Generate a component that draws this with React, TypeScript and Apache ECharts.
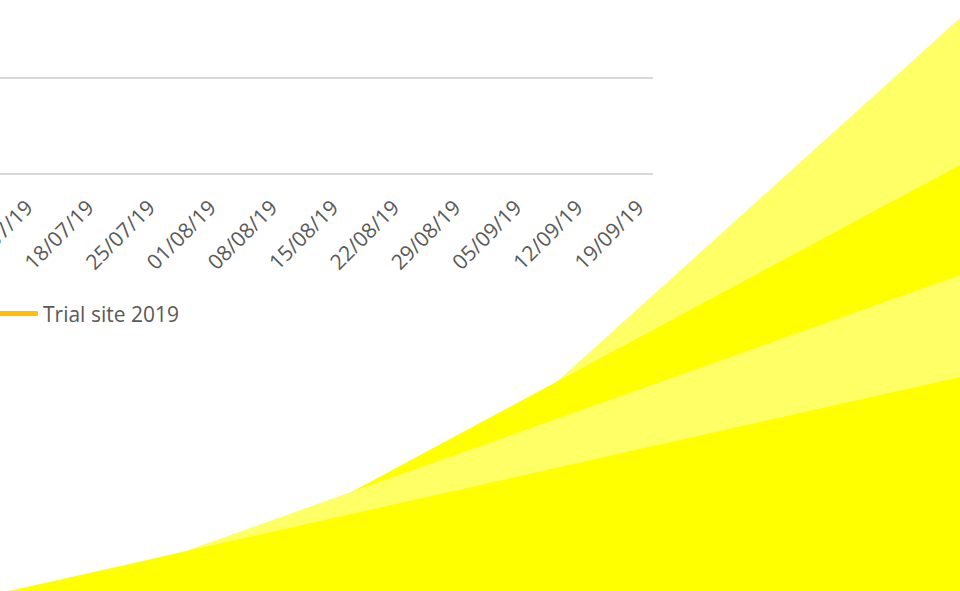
import React, { useEffect, useRef } from "react";
import * as echarts from "echarts";

// Category axis (weekly dates; the first two sit left of the visible crop)
const dates: string[] = [
  "27/06/19", "04/07/19", "11/07/19", "18/07/19", "25/07/19", "01/08/19", "08/08/19",
  "15/08/19", "22/08/19", "29/08/19", "05/09/19", "12/09/19", "19/09/19",
];
// Trial site 2019 — no values visible in the shown date range
const trialSite2019: (number | null)[] = [
  null, null, null, null, null, null, null, null, null, null, null, null, null,
];
// Value axis range (labels are outside the crop)
const yMin = 0;
const yMax = 10;
const yInterval = 10;

// Decorative yellow ribbons (page-space value axes: x 0..960, y 0..591 upwards)
const ribbonLightBack: number[][] = [[325, 0], [960, 573]];
const ribbonBrightBack: number[][] = [[167, 0], [960, 426]];
const ribbonLightFront: number[][] = [[73, 0], [960, 316]];
const ribbonBrightFront: number[][] = [[9, 0], [960, 214]];

const FONT = "'Open Sans', sans-serif";
const GREY = "#595959";
const OFF = 100; // the chart canvas starts this far left of the page (crop)

export default function App() {
  const ref = useRef<HTMLDivElement>(null);
  useEffect(() => {
    if (!ref.current) return;
    const chart = echarts.init(ref.current, null, { renderer: "svg" });
    const ribbon = (name: string, data: number[][], color: string) => ({
      name,
      type: "line",
      xAxisIndex: 1,
      yAxisIndex: 1,
      data,
      symbol: "none",
      silent: true,
      lineStyle: { width: 0, color },
      itemStyle: { color },
      areaStyle: { color, opacity: 1 },
      z: 1,
    });
    const step = 61.1;
    const plotW = (dates.length - 1) * step;
    chart.setOption({
      animation: false,
      backgroundColor: "#ffffff",
      grid: [
        {
          left: OFF + 653 - plotW,
          width: plotW,
          top: 78,
          height: 96,
          containLabel: false,
          outerBoundsMode: "none",
        },
        { left: OFF, top: 0, width: 960, height: 591, containLabel: false, outerBoundsMode: "none" },
      ],
      legend: {
        data: ["Trial site 2019"],
        left: OFF - 17,
        top: 298,
        itemWidth: 50,
        itemHeight: 5,
        icon: "roundRect",
        itemStyle: { color: "#FFC000" },
        textStyle: { fontSize: 21, color: GREY, fontFamily: FONT },
      },
      xAxis: [
        {
          type: "category",
          gridIndex: 0,
          data: dates,
          boundaryGap: false,
          axisLine: { show: false },
          axisTick: { show: false },
          axisLabel: {
            rotate: 45,
            interval: 0,
            margin: 16,
            padding: [0, 19, 0, 0],
            fontSize: 21,
            color: GREY,
            fontFamily: FONT,
          },
          splitLine: { show: false },
        },
        { type: "value", gridIndex: 1, min: 0, max: 960, show: false },
      ],
      yAxis: [
        {
          type: "value",
          gridIndex: 0,
          min: yMin,
          max: yMax,
          interval: yInterval,
          axisLabel: { show: false },
          axisLine: { show: false },
          axisTick: { show: false },
          splitLine: { lineStyle: { color: "#D9D9D9", width: 2 } },
        },
        { type: "value", gridIndex: 1, min: 0, max: 591, show: false },
      ],
      series: [
        {
          name: "Trial site 2019",
          type: "line",
          xAxisIndex: 0,
          yAxisIndex: 0,
          data: trialSite2019,
          symbol: "none",
          lineStyle: { color: "#FFC000", width: 3 },
          itemStyle: { color: "#FFC000" },
          z: 3,
        },
        ribbon("ribbonLightBack", ribbonLightBack, "#FFFF66"),
        ribbon("ribbonBrightBack", ribbonBrightBack, "#FFFF00"),
        ribbon("ribbonLightFront", ribbonLightFront, "#FFFF66"),
        ribbon("ribbonBrightFront", ribbonBrightFront, "#FFFF00"),
      ],
    });
    return () => chart.dispose();
  }, []);
  return (
    <div
      ref={ref}
      style={{ position: "fixed", left: -OFF, top: 0, width: 960 + OFF, height: 591, background: "#fff" }}
    />
  );
}
